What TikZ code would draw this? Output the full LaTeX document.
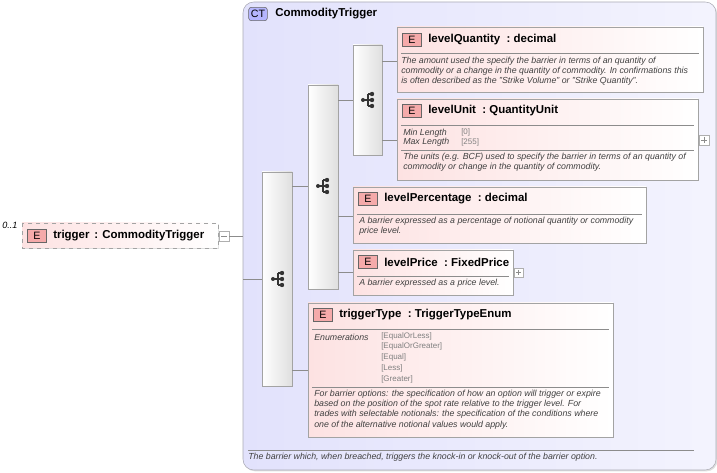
\documentclass[tikz,border=0pt]{standalone}
\usepackage{fontspec}
\setmainfont{Liberation Sans}
\usetikzlibrary{shadows}
\definecolor{ctbg}{RGB}{226,226,252}
\definecolor{ctbd}{RGB}{170,170,180}
\definecolor{elbg}{RGB}{253,226,226}
\definecolor{gr}{RGB}{140,140,140}
\definecolor{badge}{RGB}{245,170,170}
\begin{document}
\begin{tikzpicture}[x=0.75pt,y=-0.75pt,
  elem/.style={draw=gr!80,left color=elbg,right color=white,drop shadow={opacity=0.25,shadow xshift=1pt,shadow yshift=-1pt}},
  seq/.style={draw=gr!80,left color=white,right color=gray!25,drop shadow={opacity=0.25,shadow xshift=1pt,shadow yshift=-1pt}},
  conn/.style={draw=gr,line width=0.5pt},
  sep/.style={draw=gr,line width=0.5pt},
  hd/.style={anchor=west,font=\bfseries\fontsize{8.6}{10}\selectfont,inner sep=0},
  ds/.style={anchor=north west,font=\itshape\fontsize{6.6}{7.6}\selectfont,text=black!75,inner sep=0,align=left},
  ev/.style={anchor=west,font=\fontsize{6}{7}\selectfont,text=gray,inner sep=0},
  eb/.style={draw=black!60,fill=badge,minimum width=14pt,minimum height=10pt,inner sep=0,font=\fontsize{8}{9}\selectfont},
  pl/.style={draw=gr!70,fill=white,line width=0.4pt}]
\useasboundingbox (0,0) rectangle (717,473);
% trigger
\node[anchor=west,font=\itshape\fontsize{6.8}{8}\selectfont,inner sep=0] (occ) at (2,225) {0..1};
\draw[elem,dashed] (22,223) rectangle (218,248);
\node[eb] (trgE) at (37,236) {E};
\node[hd] (trg) at (53,236) {trigger};
\node[hd] (trgt) at (94,236) {: CommodityTrigger};
\draw[pl] (219,231) rectangle (229,241); \draw[gr,line width=0.4pt] (221,236)--(227,236);
\coordinate (tR) at (229,236);
% CT
\draw[draw=ctbd,rounded corners=8pt,left color=ctbg,right color=ctbg!40!white,drop shadow={opacity=0.25,shadow xshift=1pt,shadow yshift=-1pt}] (243,2) rectangle (716,470);
\node[draw=black!60,fill=ctbg!80!blue,rounded corners=2pt,minimum width=14pt,minimum height=10pt,inner sep=0,font=\fontsize{8}{9}\selectfont] (ctb) at (258,14) {CT};
\node[hd] (ct) at (275,14) {CommodityTrigger};
\coordinate (ctL) at (243,236);
\draw[conn] (tR) -- (ctL);
\draw[sep] (248,450) -- (694,450);
\node[ds] (ctd) at (248,453) {The barrier which, when breached, triggers the knock-in or knock-out of the barrier option.};
% sequences
\newcommand{\seqicon}[2]{%
 \begin{scope}[shift={(#1,#2)}]
  \fill[black!80] (-5,0) circle (2);
  \draw[black!80,line width=0.9pt] (-5,0)--(0,0) (0,-6)--(0,6) (0,-6)--(4,-6) (0,0)--(4,0) (0,6)--(4,6);
  \fill[black!80] (4,-6) circle (2.2) (4,0) circle (2.2) (4,6) circle (2.2);
 \end{scope}}
\draw[seq] (262,172) rectangle (292,386); \seqicon{278}{279}
\coordinate (s1) at (262,279);
\draw[conn] (243,279) -- (s1);
\draw[seq] (308,85) rectangle (338,289); \seqicon{323}{186}
\draw[conn] (292,186) -- (308,186);
\draw[seq] (353,45) rectangle (382,155); \seqicon{368}{100}
\draw[conn] (338,100) -- (353,100);
\newcommand{\elbox}[6]{%
  \draw[elem] (#1,#2) rectangle (#3,#4);
  \node[eb] at (#1+15,#5) {E};
  \node[hd] at (#1+31,#5) {#6};}
% levelQuantity
\elbox{397}{27}{703}{92}{40}{levelQuantity\ \ :\ decimal}
\draw[sep] (401,53)--(699,53);
\node[ds] at (401,57) {The amount used the specify the barrier in terms of an quantity of\\commodity or a change in the quantity of commodity. In confirmations this\\is often described as the "Strike Volume" or "Strike Quantity".};
\draw[conn] (382,61)--(397,61);
% levelUnit
\elbox{397}{99}{698}{180}{111}{levelUnit\ \ :\ QuantityUnit}
\draw[sep] (401,125)--(694,125);
\node[ds,anchor=west] at (403,133) {Min Length};
\node[ds,anchor=west] at (403,142) {Max Length};
\node[ev] at (461,132) {[0]};
\node[ev] at (461,142) {[255]};
\draw[sep] (401,150)--(694,150);
\node[ds] at (403,153) {The units (e.g. BCF) used to specify the barrier in terms of an quantity of\\commodity or change in the quantity of commodity.};
\draw[pl] (699,135) rectangle (709,145); \draw[gr,line width=0.4pt] (701,140)--(707,140) (704,137)--(704,143);
\draw[conn] (382,140)--(397,140);
% levelPercentage
\elbox{353}{187}{646}{243}{199}{levelPercentage\ \ :\ decimal}
\draw[sep] (357,214)--(642,214);
\node[ds] at (359,217) {A barrier expressed as a percentage of notional quantity or commodity\\price level.};
\draw[conn] (338,216)--(353,216);
% levelPrice
\elbox{353}{250}{513}{295}{262}{levelPrice\ \ :\ FixedPrice}
\draw[sep] (357,276)--(509,276);
\node[ds] at (359,279) {A barrier expressed as a price level.};
\draw[pl] (514,268) rectangle (523,277); \draw[gr,line width=0.4pt] (516,272.5)--(521,272.5) (518.5,270)--(518.5,275);
\draw[conn] (338,272)--(353,272);
% triggerType
\elbox{308}{303}{613}{437}{315}{triggerType\ \ :\ TriggerTypeEnum}
\draw[sep] (312,329)--(609,329);
\node[ds,anchor=west] at (314,337) {Enumerations};
\node[ev] at (381,336) {[EqualOrLess]};
\node[ev] at (381,346) {[EqualOrGreater]};
\node[ev] at (381,357) {[Equal]};
\node[ev] at (381,368) {[Less]};
\node[ev] at (381,379) {[Greater]};
\draw[sep] (312,387)--(609,387);
\node[ds] at (314,390) {For barrier options: the specification of how an option will trigger or expire\\based on the position of the spot rate relative to the trigger level. For\\trades with selectable notionals: the specification of the conditions where\\one of the alternative notional values would apply.};
\draw[conn] (292,370)--(308,370);
\end{tikzpicture}
\end{document}
